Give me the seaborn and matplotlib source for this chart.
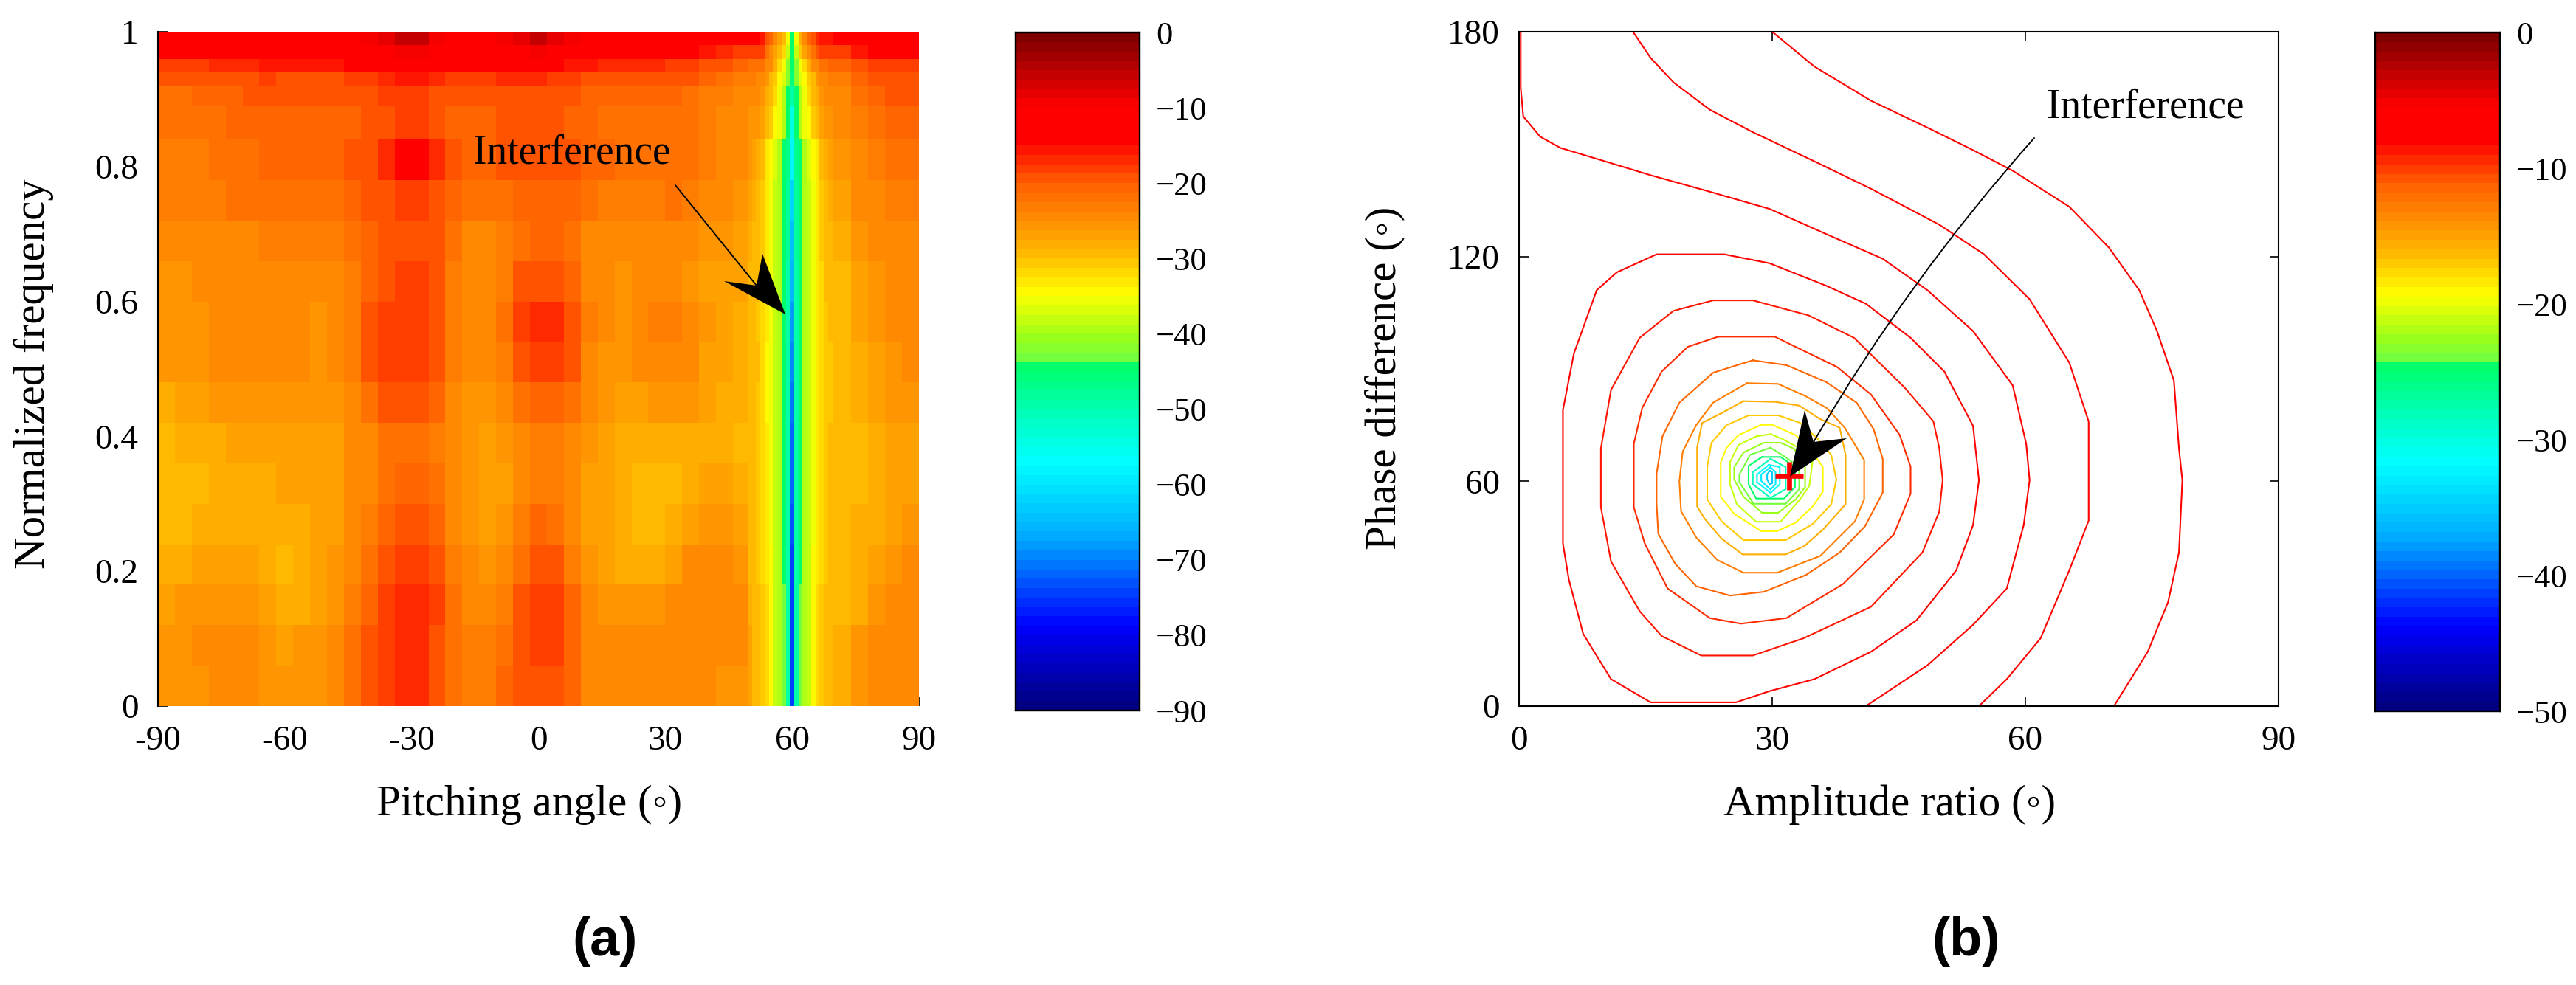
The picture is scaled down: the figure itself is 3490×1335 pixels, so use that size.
import matplotlib
matplotlib.use("Agg")
import matplotlib.pyplot as plt
from matplotlib.cm import ScalarMappable
from matplotlib.colors import LinearSegmentedColormap, Normalize
from matplotlib.patches import Polygon
import numpy as np
import pandas as pd
import seaborn as sns

W, H = 3490, 1335

# panel (a): beam pattern in dB, rows run top to bottom
# widths are in half degrees, heights in hundredths of the frequency axis
row_heights = [2, 2, 2, 2, 3, 5] + [6] * 14
left_widths = [8] * 34 + [7]
notch_widths = [2] * 20
right_widths = [9, 8, 8, 8, 8]

pattern_left_db = [
    [-13,-13,-13,-12,-12,-12,-12,-12,-12,-12,-12,-11,-10,-8,-6,-6,-9,-11,-11,-11,-10,-8,-6,-8,-10,-11,-12,-12,-12,-12,-12,-12,-13,-14,-15],
    [-15,-15,-15,-15,-15,-14,-14,-14,-14,-14,-13,-12,-12,-11,-9,-9,-11,-12,-12,-12,-12,-11,-10,-11,-13,-14,-15,-15,-15,-15,-15,-15,-16,-17,-18],
    [-18,-18,-18,-17,-17,-17,-16,-16,-16,-16,-16,-15,-15,-14,-12,-12,-14,-14,-15,-15,-14,-13,-13,-14,-16,-16,-17,-17,-17,-17,-18,-18,-19,-20,-21],
    [-20,-20,-20,-19,-19,-19,-18,-19,-19,-19,-19,-18,-18,-17,-16,-16,-17,-18,-18,-18,-17,-17,-17,-18,-18,-19,-19,-20,-20,-20,-20,-20,-21,-22,-23],
    [-22,-22,-21,-21,-21,-20,-20,-20,-20,-20,-20,-20,-19,-18,-18,-18,-19,-20,-20,-20,-19,-19,-19,-20,-20,-21,-21,-21,-21,-21,-21,-22,-23,-23,-24],
    [-22,-22,-22,-22,-21,-21,-21,-21,-21,-21,-21,-21,-20,-19,-18,-18,-19,-21,-21,-21,-20,-20,-20,-20,-21,-21,-22,-22,-22,-22,-22,-22,-23,-24,-25],
    [-23,-23,-23,-22,-22,-22,-21,-21,-21,-21,-21,-20,-19,-17,-15,-15,-17,-20,-21,-21,-20,-19,-19,-19,-20,-21,-21,-22,-22,-22,-22,-22,-23,-24,-25],
    [-23,-23,-23,-23,-22,-22,-22,-22,-22,-22,-22,-21,-20,-19,-18,-18,-19,-21,-22,-22,-22,-21,-21,-21,-21,-22,-23,-23,-23,-23,-22,-23,-24,-25,-26],
    [-24,-24,-24,-24,-24,-24,-23,-23,-23,-23,-23,-22,-21,-20,-19,-19,-20,-22,-24,-24,-23,-22,-21,-21,-22,-24,-24,-25,-25,-25,-25,-25,-26,-26,-27],
    [-26,-26,-25,-25,-25,-25,-25,-25,-25,-25,-24,-23,-21,-19,-18,-18,-20,-23,-25,-25,-23,-20,-19,-19,-21,-24,-25,-26,-25,-25,-25,-26,-27,-27,-27],
    [-26,-26,-26,-25,-24,-24,-24,-24,-25,-26,-25,-23,-20,-18,-18,-18,-19,-23,-25,-25,-22,-18,-17,-17,-19,-23,-25,-26,-25,-23,-23,-25,-26,-27,-28],
    [-26,-26,-26,-25,-25,-24,-24,-24,-25,-26,-25,-23,-20,-18,-18,-18,-19,-23,-25,-25,-23,-19,-18,-18,-20,-24,-26,-26,-25,-24,-24,-25,-27,-27,-28],
    [-28,-27,-27,-26,-26,-26,-26,-26,-26,-26,-26,-24,-22,-20,-20,-20,-21,-24,-26,-26,-24,-22,-21,-21,-22,-25,-26,-27,-27,-26,-26,-26,-27,-28,-28],
    [-29,-28,-28,-28,-27,-27,-27,-27,-27,-27,-27,-25,-24,-22,-22,-22,-23,-25,-26,-27,-26,-24,-23,-23,-24,-26,-27,-28,-28,-28,-28,-28,-28,-28,-29],
    [-30,-30,-29,-28,-28,-28,-28,-27,-27,-27,-27,-25,-24,-22,-21,-21,-22,-25,-26,-27,-27,-24,-23,-23,-25,-27,-27,-28,-29,-29,-29,-28,-27,-27,-28],
    [-29,-29,-28,-28,-28,-28,-28,-28,-28,-27,-27,-25,-23,-21,-20,-20,-21,-24,-26,-27,-26,-23,-21,-22,-24,-27,-27,-28,-29,-29,-28,-27,-26,-26,-27],
    [-28,-28,-27,-27,-27,-27,-28,-29,-28,-27,-26,-24,-22,-19,-18,-18,-19,-23,-25,-26,-25,-22,-20,-20,-23,-26,-27,-28,-28,-28,-27,-25,-25,-25,-26],
    [-27,-26,-26,-26,-26,-26,-27,-28,-28,-27,-26,-23,-21,-18,-17,-17,-18,-22,-24,-25,-23,-19,-18,-18,-21,-25,-26,-26,-26,-26,-24,-24,-24,-24,-25],
    [-26,-26,-25,-25,-25,-25,-26,-27,-26,-26,-25,-22,-20,-18,-17,-17,-19,-22,-23,-23,-22,-19,-18,-18,-21,-24,-25,-25,-25,-24,-24,-24,-24,-24,-25],
    [-26,-26,-26,-25,-25,-25,-26,-26,-26,-26,-25,-22,-20,-18,-17,-17,-19,-22,-23,-23,-21,-19,-19,-19,-21,-24,-25,-25,-25,-24,-24,-24,-25,-26,-26],
]

pattern_notch_db = [
    [-15,-15,-15,-16,-20,-21,-24,-27,-30,-36,-44,-36,-28,-25,-21,-20,-17,-16,-16,-16],
    [-18,-18,-18,-18,-22,-25,-27,-30,-32,-38,-44,-38,-31,-27,-25,-22,-19,-18,-18,-18],
    [-22,-22,-22,-22,-25,-25,-28,-32,-36,-42,-45,-42,-36,-32,-28,-25,-25,-22,-22,-21],
    [-23,-23,-25,-25,-26,-30,-31,-35,-37,-42,-46,-42,-37,-35,-31,-30,-26,-25,-25,-23],
    [-25,-25,-25,-26,-28,-30,-32,-36,-39,-44,-50,-44,-39,-36,-32,-30,-28,-26,-25,-25],
    [-26,-26,-26,-27,-29,-31,-34,-36,-39,-45,-54,-45,-39,-36,-34,-31,-29,-27,-26,-26],
    [-26,-27,-28,-30,-33,-35,-37,-40,-44,-47,-58,-47,-44,-40,-37,-35,-33,-30,-28,-27],
    [-27,-28,-29,-31,-33,-36,-38,-40,-44,-48,-62,-48,-44,-40,-38,-36,-33,-31,-29,-28],
    [-28,-29,-30,-31,-33,-36,-38,-40,-44,-48,-64,-48,-44,-40,-38,-36,-33,-31,-30,-29],
    [-29,-29,-30,-32,-33,-36,-38,-40,-44,-49,-66,-49,-44,-40,-38,-36,-33,-32,-30,-29],
    [-29,-30,-31,-32,-33,-36,-38,-40,-44,-50,-68,-49,-44,-40,-38,-36,-33,-32,-31,-30],
    [-29,-30,-30,-32,-34,-36,-38,-40,-45,-50,-70,-49,-45,-40,-38,-36,-33,-32,-31,-31],
    [-29,-30,-31,-32,-34,-36,-38,-40,-45,-50,-71,-49,-45,-40,-38,-36,-33,-32,-31,-31],
    [-30,-30,-31,-32,-33,-36,-38,-40,-44,-50,-72,-50,-44,-40,-38,-36,-33,-32,-31,-30],
    [-30,-30,-31,-32,-33,-36,-38,-40,-44,-50,-72,-50,-44,-40,-38,-36,-33,-32,-31,-30],
    [-30,-30,-31,-32,-33,-36,-38,-40,-44,-50,-73,-50,-44,-40,-38,-36,-33,-32,-31,-30],
    [-29,-30,-31,-32,-33,-35,-38,-40,-44,-50,-74,-50,-44,-40,-38,-35,-33,-32,-31,-30],
    [-28,-30,-30,-31,-32,-35,-38,-39,-43,-50,-75,-49,-43,-39,-38,-35,-32,-31,-30,-30],
    [-27,-30,-30,-31,-32,-35,-38,-39,-43,-50,-75,-49,-43,-39,-38,-35,-32,-31,-30,-30],
    [-27,-30,-30,-31,-32,-35,-38,-39,-43,-50,-74,-49,-43,-39,-38,-35,-32,-31,-30,-30],
]

pattern_right_db = [
    [-15,-13,-12,-12,-12], [-18,-16,-15,-15,-15], [-21,-19,-18,-18,-18], [-23,-21,-20,-19,-19],
    [-24,-22,-21,-20,-20], [-25,-23,-22,-21,-21], [-26,-24,-23,-22,-22], [-27,-25,-24,-23,-23],
    [-28,-26,-25,-24,-24], [-29,-27,-26,-25,-24], [-29,-27,-26,-25,-25], [-29,-28,-27,-26,-25],
    [-29,-28,-27,-26,-26], [-29,-29,-28,-27,-27], [-29,-29,-28,-27,-27], [-29,-28,-28,-27,-26],
    [-29,-28,-27,-26,-25], [-29,-28,-26,-25,-25], [-28,-26,-25,-24,-24], [-28,-26,-25,-24,-24],
]

pitch_ticks = [-90, -60, -30, 0, 30, 60, 90]
freq_ticks = [0, 0.2, 0.4, 0.6, 0.8, 1]
freq_labels = ["0", "0.2", "0.4", "0.6", "0.8", "1"]
bar_a_ticks = [0, -10, -20, -30, -40, -50, -60, -70, -80, -90]

# panel (b): contour rings, outermost first, amplitude ratio / phase difference
ring_level_db = [-6, -6.5, -7, -7.5, -8.5, -9.5, -11.5, -13, -15.5, -17.2, -19, -21, -22.5, -24, -25, -28, -31.5, -33, -35]
ring_ratio = [
    [30, 35, 41.7, 48.4, 53.8, 58.5, 65.2, 69.9, 73.5, 75.6, 77.6, 78.2, 78.6, 78.2, 76.9, 74.5, 70.5],
    [13.5, 15.6, 18.3, 22.6, 27.7, 35, 41.7, 49.8, 55.1, 60.5, 65.2, 67.5, 67.5, 65.2, 61.8, 57.8, 54.5],
    [0.2, 0.2, 0.5, 2.5, 4.9, 10.2, 15.6, 22.3, 29.7, 36.4, 43.1, 48.4, 53.8, 58.5, 60.1, 60.5, 59.8, 57.8, 53.8, 48.4, 41.1],
    [15.6, 10.9, 7.6, 5.9, 5.2, 5.2, 6.5, 9.2, 11.6, 16.3, 24.3, 29.7, 36.4, 41.1, 46.4, 50.4, 53.8, 54.5, 53.8, 51.8, 47.1, 41.7, 35, 29.7, 25.7, 15.6],
    [23, 27.7, 34.3, 39.7, 45.7, 49.1, 49.8, 50.2, 49.8, 47.8, 41.7, 33.7, 27.7, 21.6, 16.9, 14.3, 10.9, 9.7, 9.7, 10.9, 14.3, 18.3, 23],
    [23.6, 30.3, 37.7, 41.7, 45.1, 46.4, 46.4, 44.4, 38.4, 31.7, 26.3, 22.6, 17.6, 14.9, 13.6, 13.6, 14.6, 16.9, 20, 23.6],
    [27.7, 31.7, 36.4, 40, 42, 43.1, 43.1, 41, 38, 34, 29, 25, 21, 18.5, 16.5, 16.3, 16.3, 17, 19, 23, 27.7],
    [27, 30.7, 33.9, 36.5, 38.6, 40.9, 40.9, 39.8, 35.7, 30.6, 26.6, 23.5, 21, 19.2, 19, 19.4, 21, 23, 27],
    [26.6, 30.4, 33.2, 35.7, 38, 38.7, 38.7, 36.1, 33.8, 31.6, 26.5, 24, 22, 21.1, 21.1, 21.7, 24, 26.6],
    [27.2, 30.7, 33.3, 35.4, 37, 37.6, 37, 34.8, 31.6, 26.6, 24, 22.3, 22.3, 22.8, 24.6, 27.2],
    [28.7, 30, 32.8, 34.8, 36, 36, 34.8, 32.8, 30.6, 28.7, 25.5, 23.9, 23.9, 24.6, 26, 28.7],
    [29.8, 31.2, 33.1, 34.8, 34.4, 33.3, 31, 28.1, 25.8, 25, 25, 26, 28.1, 29.8],
    [29, 31, 32.6, 33.9, 33.9, 32.8, 30.7, 28.8, 26.6, 25.5, 25.5, 26.6, 29],
    [29.8, 31.6, 33.2, 33.2, 31.6, 27.8, 26.1, 26.1, 27.4, 29.8],
    [28.8, 31, 32.7, 32.7, 31.4, 28.1, 27.2, 27.2, 28.8],
    [29.8, 31.6, 31.6, 29.8, 27.7, 27.7, 29.8],
    [29.6, 30.9, 30.9, 29.8, 28.2, 28.2, 29.6],
    [29.8, 30.4, 30.4, 29.8, 28.7, 28.7, 29.8],
    [29.7, 30, 30, 29.7, 29.4, 29.4, 29.7],
]
ring_phase = [
    [180, 170.7, 161.6, 154.4, 148.4, 142.9, 133.3, 122.4, 111, 100.1, 86.9, 68.8, 60.3, 41, 27.7, 14.5, 0],
    [180, 173, 166.5, 159.2, 153.2, 145.4, 138.1, 128.5, 120.6, 108.6, 91.7, 76, 49.5, 36.2, 18.1, 7.2, 0],
    [180, 165, 157.4, 152, 149, 145.4, 141.7, 137.5, 132.7, 126, 119.4, 111, 100.1, 85.6, 70, 60.3, 48.3, 31.4, 21.7, 10.9, 0],
    [1, 7.2, 19.3, 33.8, 43.4, 79, 94.1, 111, 115.8, 120.6, 120.6, 118.2, 112.2, 107.4, 98.3, 89.3, 74.8, 60.3, 48.3, 36.2, 22.9, 14.5, 7.2, 4, 1, 1],
    [108.3, 108.3, 104.3, 98.3, 85, 76, 68.8, 60.3, 51.9, 41, 26.5, 18.1, 13.5, 13.5, 18.7, 25.3, 38.6, 53.1, 68.8, 84.4, 98.3, 105.5, 108.3],
    [98.6, 98.6, 90.5, 83.2, 72.4, 63.9, 56.7, 45.8, 32.6, 23.5, 22, 23.5, 31.4, 43.4, 53.1, 70, 79.6, 89.3, 95.9, 98.6],
    [92.3, 91, 86.5, 81, 74, 66, 57, 48, 41, 35, 30.5, 29.5, 32, 38, 46, 54, 62, 72, 81, 89, 92.3],
    [86.2, 86, 82.8, 79.5, 74.3, 65.7, 55.2, 49.3, 40.1, 35.6, 35.6, 39, 45, 52, 60, 68, 75, 81, 86.2],
    [81.4, 81.2, 80.2, 76.6, 74.3, 67, 53.9, 47.3, 42.7, 40.5, 40.5, 44.7, 50, 53.3, 69, 75.6, 78.2, 81.4],
    [77.6, 77.6, 75.6, 71.3, 67, 60.5, 53.9, 48.6, 44.3, 44.3, 49.3, 55.2, 63.8, 70.3, 75, 77.6],
    [75.1, 75.1, 72.3, 67.7, 63.8, 57.2, 53.3, 49, 46.7, 46.7, 51.3, 55.9, 65.1, 69, 72.3, 75.1],
    [72.6, 71.3, 69, 65.7, 58.8, 55.2, 49.2, 49.2, 53.9, 59.2, 65.1, 69.7, 72, 72.6],
    [70.3, 70.3, 68.7, 63.8, 58.5, 55.2, 51.6, 51.6, 55.9, 60.5, 63.8, 67.7, 70.3],
    [69, 66.4, 63.8, 57.9, 54, 54, 59.8, 61.8, 67.1, 69],
    [66.5, 66.5, 63.8, 58.5, 55.4, 55.4, 59.2, 64.1, 66.5],
    [66, 63.8, 57.9, 55.6, 59.2, 62.4, 66],
    [64.4, 63.8, 59.2, 56.9, 59.8, 61.8, 64.4],
    [63.8, 62.4, 59.2, 57.8, 60.1, 61.8, 63.8],
    [62.8, 62.4, 59.5, 59.2, 60.5, 61.8, 62.8],
]
interference_ratio = [32]
interference_phase = [61.4]

ratio_ticks = [0, 30, 60, 90]
phase_ticks = [0, 60, 120, 180]
bar_b_ticks = [0, -10, -20, -30, -40, -50]

sns.set_style("white")
plt.rcParams["font.family"] = ["Liberation Serif", "DejaVu Sans"]
plt.rcParams["text.color"] = "black"
plt.rcParams["axes.labelcolor"] = "black"
plt.rcParams["xtick.color"] = "black"
plt.rcParams["ytick.color"] = "black"

# jet-like map with the jump at the green band, as in the colour bars
bar_colors = [
    (0.0, (0.0, 0.0, 0.5)), (0.12, (0.0, 0.0, 1.0)), (0.25, (0.0, 0.66, 1.0)),
    (0.365, (0.0, 1.0, 1.0)), (0.42, (0.0, 1.0, 0.8)), (0.515, (0.0, 1.0, 0.38)),
    (0.52, (0.45, 1.0, 0.25)), (0.55, (0.6, 1.0, 0.1)), (0.615, (1.0, 1.0, 0.0)),
    (0.67, (1.0, 0.75, 0.0)), (0.78, (1.0, 0.376, 0.0)), (0.845, (1.0, 0.0, 0.0)),
    (0.895, (1.0, 0.0, 0.0)), (1.0, (0.5, 0.0, 0.0)),
]
jet_bar = LinearSegmentedColormap.from_list("jet_bar", bar_colors, N=72)


def box(left, top, right, bottom):
    return [left / W, 1 - bottom / H, (right - left) / W, (bottom - top) / H]


def style_bar(cax, ticks):
    cax.set_yticks(ticks)
    cax.tick_params(axis="y", left=True, right=True, direction="in", length=9, width=1.2,
                    color="black", labelsize=32, pad=16, labelleft=False, labelright=True)
    for spine in cax.spines.values():
        spine.set_visible(True)
        spine.set_color("black")
        spine.set_linewidth(1.6)


def head(tip, barb_a, notch, barb_b):
    points = [(x / W, 1 - y / H) for x, y in (tip, barb_a, notch, barb_b)]
    fig.add_artist(Polygon(points, closed=True, transform=fig.transFigure, facecolor="black", edgecolor="none"))


fig = plt.figure(figsize=(W / 100, H / 100), dpi=100, facecolor="white")

# panel (a)
ax_a = fig.add_axes(box(214, 43, 1245, 957))
cax_a = fig.add_axes(box(1376, 44, 1544, 963))
col_widths = left_widths + notch_widths + right_widths
pattern = np.hstack([np.array(pattern_left_db), np.array(pattern_notch_db), np.array(pattern_right_db)])
pattern = np.repeat(np.repeat(pattern, col_widths, axis=1), row_heights, axis=0)
sns.heatmap(pattern, ax=ax_a, cmap=jet_bar, vmin=-90, vmax=0, cbar_ax=cax_a,
            xticklabels=False, yticklabels=False)
ax_a.set_axisbelow(True)
ax_a.set_xticks([(t + 90) / 180 * pattern.shape[1] for t in pitch_ticks])
ax_a.set_xticklabels([str(t) for t in pitch_ticks], rotation=0)
ax_a.set_yticks([(1 - f) * pattern.shape[0] for f in freq_ticks])
ax_a.set_yticklabels(freq_labels, rotation=0)
style_bar(cax_a, bar_a_ticks)
ax_a.set_xlabel("Pitching angle (◦)", fontsize=42.5)
ax_a.set_ylabel("Normalized frequency", fontsize=42.5)
ax_a.xaxis.set_label_coords(0.488, -0.117)
ax_a.yaxis.set_label_coords(-0.137, 0.493)
ax_a.text(641, H - 222, "Interference", fontsize=40, transform=None, va="baseline")
ax_a.annotate("", xy=(1025, H - 387), xytext=(915, H - 251), xycoords="figure pixels", textcoords="figure pixels",
              arrowprops=dict(arrowstyle="-", color="black", lw=1.4, shrinkA=0, shrinkB=0))

# panel (b)
ax_b = fig.add_axes(box(2058, 43, 3087, 957))
cax_b = fig.add_axes(box(3218, 44, 3387, 964))
rings = pd.DataFrame({
    "ring": np.repeat(np.arange(len(ring_ratio)), [len(r) for r in ring_ratio]),
    "ratio": np.concatenate(ring_ratio),
    "phase": np.concatenate(ring_phase),
})
norm_b = Normalize(vmin=-50, vmax=0)
ring_palette = {i: jet_bar(norm_b(level)) for i, level in enumerate(ring_level_db)}
sns.lineplot(data=rings, x="ratio", y="phase", hue="ring", palette=ring_palette, sort=False,
             estimator=None, legend=False, linewidth=1.5, ax=ax_b)
sns.scatterplot(x=interference_ratio, y=interference_phase, marker="+", s=28 ** 2, color="red",
                linewidth=4.8, zorder=5, ax=ax_b)
ax_b.set_xlim(0, 90)
ax_b.set_ylim(0, 180)
ax_b.set_xticks(ratio_ticks)
ax_b.set_yticks(phase_ticks)
for spine in ax_b.spines.values():
    spine.set_visible(True)
    spine.set_color("black")
    spine.set_linewidth(1.5)
fig.colorbar(ScalarMappable(norm=norm_b, cmap=jet_bar), cax=cax_b)
style_bar(cax_b, bar_b_ticks)
ax_b.set_xlabel("Amplitude ratio (◦)", fontsize=42.5)
ax_b.set_ylabel("Phase difference (◦)", fontsize=42.5)
ax_b.xaxis.set_label_coords(0.488, -0.117)
ax_b.yaxis.set_label_coords(-0.150, 0.487)
ax_b.text(2773, H - 160, "Interference", fontsize=40, transform=None, va="baseline")
ax_b.annotate("", xy=(2457, H - 599), xytext=(2756, H - 187), xycoords="figure pixels", textcoords="figure pixels",
              arrowprops=dict(arrowstyle="-", color="black", lw=1.4, shrinkA=0, shrinkB=0,
                              connectionstyle="arc3,rad=0.05"))

for ax in (ax_a, ax_b):
    ax.tick_params(axis="both", which="both", direction="in", length=9, width=1.2, color="black",
                   bottom=True, left=True, labelsize=34, pad=19)
ax_a.spines["left"].set_visible(True)
ax_a.spines["left"].set_color("black")
ax_a.spines["left"].set_linewidth(1.5)
ax_b.tick_params(axis="both", top=True, right=True)

head((1064, 426), (1033, 344), (1025, 387), (981, 381))
head((2425, 646), (2445, 556), (2457, 599), (2502, 594))

fig.text(820 / W, 1 - 1276 / H, "(a)", fontsize=52, fontweight="bold", family="Liberation Sans", ha="center", va="center")
fig.text(2664 / W, 1 - 1276 / H, "(b)", fontsize=52, fontweight="bold", family="Liberation Sans", ha="center", va="center")

fig.savefig("out.png", dpi=100, facecolor="white")
